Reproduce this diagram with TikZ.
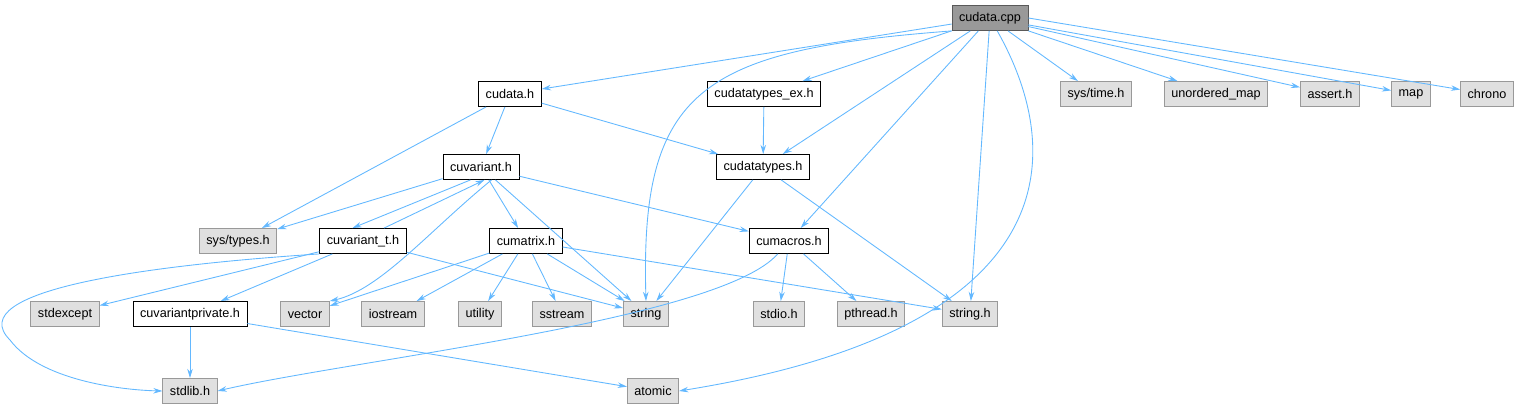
\documentclass[tikz,border=0pt]{standalone}
\usepackage{fontspec}
\setmainfont{Liberation Sans}
\usetikzlibrary{arrows.meta}
\definecolor{edgeblue}{HTML}{63B8FF}
\definecolor{sysgray}{HTML}{E0E0E0}
\definecolor{rootgray}{HTML}{999999}
\tikzset{%
    hdr/.style={rectangle, draw=black, line width=0.5pt, fill=white, minimum height=0.5cm, inner xsep=4pt, font=\fontsize{7.2}{8}\selectfont},
    sys/.style={hdr, draw=gray!80, fill=sysgray},
    root/.style={hdr, draw=gray!70!black, fill=rootgray},
    inc/.style={draw=edgeblue, line width=0.5pt, -{Stealth[scale width=0.8]}},
}
\begin{document}
\begin{tikzpicture}[x=0.02cm, y=-0.02cm]
    \useasboundingbox (0,0) rectangle (1522,411);
    % row 0
    \node[root] (cpp) at (990,18) {cudata.cpp};
    % row 1
    \node[hdr] (cudata) at (510,94) {cudata.h};
    \node[hdr] (typesex) at (764,94) {cudatatypes\_ex.h};
    \node[sys] (systime) at (1096,94) {sys/time.h};
    \node[sys] (umap) at (1216,94) {unordered\_map};
    \node[sys] (assert) at (1330,94) {assert.h};
    \node[sys] (map) at (1411,94) {map};
    \node[sys] (chrono) at (1487,94) {chrono};
    % row 2
    \node[hdr] (cuvar) at (481,167) {cuvariant.h};
    \node[hdr] (types) at (763,167) {cudatatypes.h};
    % row 3
    \node[sys] (systypes) at (238,241) {sys/types.h};
    \node[hdr] (cuvart) at (363,241) {cuvariant\_t.h};
    \node[hdr] (cumat) at (526,241) {cumatrix.h};
    \node[hdr] (cumac) at (789,241) {cumacros.h};
    % row 4
    \node[sys] (stdexc) at (65,314) {stdexcept};
    \node[hdr] (cuvarp) at (190,314) {cuvariantprivate.h};
    \node[sys] (vector) at (305,314) {vector};
    \node[sys] (iostr) at (393,314) {iostream};
    \node[sys] (util) at (480,314) {utility};
    \node[sys] (sstr) at (562,314) {sstream};
    \node[sys] (string) at (646,314) {string};
    \node[sys] (stdio) at (779,314) {stdio.h};
    \node[sys] (pthr) at (871,314) {pthread.h};
    \node[sys] (strh) at (970,314) {string.h};
    % row 5
    \node[sys] (stdlib) at (190,391) {stdlib.h};
    \node[sys] (atomic) at (653,391) {atomic};

    % cudata.cpp
    \draw[inc] (cpp) -- (cudata);
    \draw[inc] (cpp.south west) .. controls (700,50) and (640,90) .. (string.north);
    \draw[inc] (cpp) -- (typesex);
    \draw[inc] (cpp) -- (types);
    \draw[inc] (cpp) -- (cumac);
    \draw[inc] (cpp) -- (strh);
    \draw[inc] (cpp) .. controls (1070,160) and (1060,330) .. (atomic.east);
    \draw[inc] (cpp) -- (systime);
    \draw[inc] (cpp) -- (umap);
    \draw[inc] (cpp) -- (assert);
    \draw[inc] (cpp) -- (map);
    \draw[inc] (cpp.east) -- (chrono);
    % cudata.h
    \draw[inc] (cudata) -- (cuvar);
    \draw[inc] (cudata) -- (systypes);
    \draw[inc] (cudata) -- (types);
    \draw[inc] (typesex) -- (types);
    \draw[inc] (types) -- (string);
    \draw[inc] (types) -- (strh);
    % cuvariant.h
    \draw[inc] (cuvar) -- (systypes);
    \draw[inc] ([xshift=-6pt]cuvar.south) -- ([xshift=-6pt]cuvart.north);
    \draw[inc] ([xshift=12pt]cuvart.north) -- ([xshift=2pt]cuvar.south);
    \draw[inc] ([xshift=6pt]cuvar.south) .. controls (430,230) and (380,290) .. (vector.north east);
    \draw[inc] (cuvar) -- (cumat);
    \draw[inc] (cuvar) -- (string);
    \draw[inc] (cuvar) -- (cumac);
    % cuvariant_t.h
    \draw[inc] (cuvart) -- (stdexc);
    \draw[inc] (cuvart) -- (cuvarp);
    \draw[inc] (cuvart.south west) .. controls (150,265) and (-40,290) .. (10,340) .. controls (40,380) and (120,390) .. (stdlib.west);
    \draw[inc] (cuvart) -- (string);
    % cumatrix.h
    \draw[inc] (cumat) -- (vector);
    \draw[inc] (cumat) -- (iostr);
    \draw[inc] (cumat) -- (util);
    \draw[inc] (cumat) -- (sstr);
    \draw[inc] (cumat) -- (string);
    \draw[inc] (cumat) -- (strh);
    % cumacros.h
    \draw[inc] (cumac) -- (stdio);
    \draw[inc] (cumac) -- (pthr);
    \draw[inc] (cumac) .. controls (720,320) and (350,360) .. (stdlib.east);
    % cuvariantprivate.h
    \draw[inc] (cuvarp) -- (stdlib);
    \draw[inc] (cuvarp) -- (atomic);
\end{tikzpicture}
\end{document}
